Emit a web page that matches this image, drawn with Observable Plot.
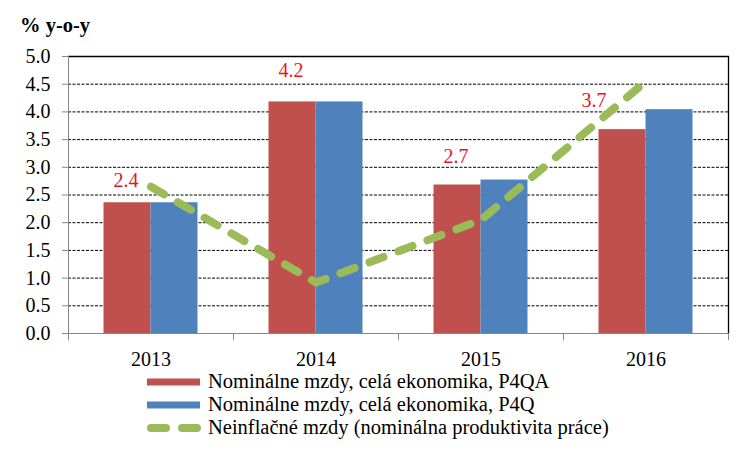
<!DOCTYPE html>
<html>
<head>
<meta charset="utf-8">
<script src="https://cdn.jsdelivr.net/npm/d3@7"></script>
<script src="https://cdn.jsdelivr.net/npm/@observablehq/plot@0.6"></script>
<style>
  html, body { margin: 0; padding: 0; background: #fff; }
  body { width: 750px; height: 450px; overflow: hidden; font-family: "Liberation Serif", "Times New Roman", serif; }
  #title { height: 44px; box-sizing: border-box; padding: 15px 0 0 20px; font-weight: bold; font-size: 20.5px; line-height: 20px; }
  #chart svg { display: block; }
  #legend { margin-top: -4px; padding-left: 147px; font-size: 20.5px; line-height: 23px; }
  .row { display: flex; align-items: center; height: 23px; }
  .row svg { margin-right: 7px; flex: none; }
</style>
</head>
<body>
<div id="title">% y-o-y</div>
<div id="chart"></div>
<div id="legend"></div>
<script>
const years = ["2013", "2014", "2015", "2016"];
const seriesNames = [
  "Nominálne mzdy, celá ekonomika, P4QA",
  "Nominálne mzdy, celá ekonomika, P4Q",
  "Neinflačné mzdy (nominálna produktivita práce)"
];
const p4qa = [2.36, 4.18, 2.68, 3.68];
const p4q = [2.36, 4.18, 2.77, 4.04];
const neinflacne = [2.65, 0.92, 2.05, 4.55];
const yTicks = [0, 0.5, 1, 1.5, 2, 2.5, 3, 3.5, 4, 4.5, 5];
const colors = ["#C0504D", "#4F81BD", "#9BBB59"];

const redData = years.map((y, i) => ({year: y, value: p4qa[i]}));
const blueData = years.map((y, i) => ({year: y, value: p4q[i]}));
const lineData = years.map((y, i) => ({year: y, value: neinflacne[i]}));

// label nudges (as in original, labels manually placed)
const labelOffsets = {"2013": [-25, -16], "2014": [-25, -25], "2015": [-25, -22], "2016": [-52, -23]};

const W = 750, H = 330, mL = 68, mR = 22, mT = 12, mB = 41;
const band = (W - mL - mR) / years.length;
const barW = 47;
const outer = (band - 2 * barW) / 2;
const font = '"Liberation Serif", "Times New Roman", serif';

const labelMarks = redData.map(d => Plot.text([d], {
  x: "year", y: "value", text: d => d.value.toFixed(1),
  fill: "#E8141C", fontSize: 20, fontFamily: font,
  dx: labelOffsets[d.year][0], dy: labelOffsets[d.year][1], lineAnchor: "bottom"
}));

const chart = Plot.plot({
  width: W, height: H,
  marginLeft: mL, marginRight: mR, marginTop: mT, marginBottom: mB,
  style: {fontFamily: font, fontSize: "20px", color: "black", background: "white"},
  x: {type: "band", domain: years, padding: 0, axis: null, label: null},
  y: {domain: [0, 5], axis: null, label: null},
  marks: [
    Plot.ruleY(yTicks.filter(t => t > 0 && t < 5), {stroke: "black", strokeWidth: 1, strokeDasharray: "3,1.5"}),
    Plot.barY(redData, {x: "year", y: "value", fill: colors[0], insetLeft: outer, insetRight: outer + barW}),
    Plot.barY(blueData, {x: "year", y: "value", fill: colors[1], insetLeft: outer + barW, insetRight: outer}),
    Plot.ruleY([5], {stroke: "black", strokeWidth: 1.3}),
    Plot.frame({anchor: "right", stroke: "black", strokeWidth: 1.3}),
    Plot.frame({anchor: "left", stroke: "#868686"}),
    Plot.ruleY([0], {stroke: "#868686"}),
    Plot.axisY(yTicks, {label: null, tickSize: 6, tickPadding: 12, stroke: "#868686", fill: "black", fontSize: 20, fontFamily: font, tickFormat: d3.format(".1f")}),
    Plot.axisX(years, {label: null, tickSize: 0, tickPadding: 18, fill: "black", fontSize: 20, fontFamily: font}),
    Plot.axisX(years, {label: null, tickSize: 7, dx: band / 2, stroke: "#868686", tickFormat: () => ""}),
    Plot.axisX([years[0]], {label: null, tickSize: 7, dx: -band / 2, stroke: "#868686", tickFormat: () => ""}),
    Plot.lineY(lineData, {x: "year", y: "value", stroke: colors[2], strokeWidth: 8, strokeDasharray: "15,16", strokeLinecap: "round"}),
    ...labelMarks
  ]
});
document.getElementById("chart").appendChild(chart);

const legend = document.getElementById("legend");
seriesNames.forEach((name, i) => {
  const row = document.createElement("div");
  row.className = "row";
  const sw = i < 2
    ? `<svg width="54" height="10"><rect x="0" y="1.5" width="53" height="7" fill="${colors[i]}"/></svg>`
    : `<svg width="54" height="10"><line x1="4" y1="5" x2="50" y2="5" stroke="${colors[2]}" stroke-width="8" stroke-linecap="round" stroke-dasharray="15,16"/></svg>`;
  row.innerHTML = sw + `<span>${name}</span>`;
  legend.appendChild(row);
});
</script>
</body>
</html>
